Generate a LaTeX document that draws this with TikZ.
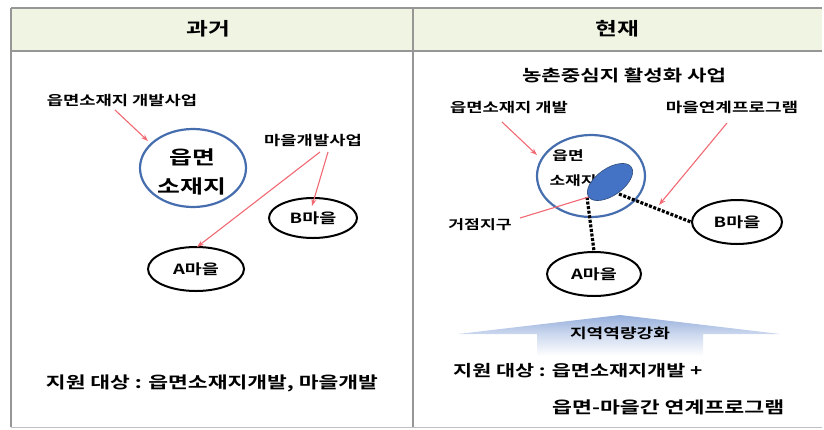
\documentclass[tikz,border=0pt]{standalone}
\usepackage{fontspec}
\setmainfont{Noto Sans CJK KR Bold}[FakeStretch=1.32]
\usetikzlibrary{arrows.meta,shapes.geometric}
\definecolor{hdr}{RGB}{239,245,226}
\definecolor{grid}{RGB}{150,150,150}
\definecolor{redl}{RGB}{240,105,115}
\definecolor{blueo}{RGB}{70,110,175}
\definecolor{bluef}{RGB}{68,114,196}
\definecolor{arrowb}{RGB}{150,175,220}
\newcommand{\fsz}[1]{\fontsize{#1}{#1}\selectfont}
\tikzset{
  lbl/.style={font=\fsz{13.4}, inner sep=1pt},
  big/.style={font=\fsz{16.3}, inner sep=1pt},
  vill/.style={ellipse, draw=black, line width=2pt, font=\fsz{14}},
  centre/.style={ellipse, draw=blueo, line width=2.2pt},
  redarr/.style={draw=redl, line width=1.1pt, -{Stealth[length=7pt,width=5pt]}},
  redln/.style={draw=redl, line width=1.1pt},
  dots/.style={draw=black, line width=3.2pt, dash pattern=on 3pt off 1.6pt},
}
\begin{document}
\begin{tikzpicture}[x=1pt,y=-1pt]
\useasboundingbox (0,0) rectangle (824,429);
% table
\fill[hdr] (11,8) rectangle (822,51);
\draw[grid, line width=1.4pt] (11,8) -- (822,8);
\draw[grid, line width=1.4pt] (11,51) -- (822,51);
\draw[grid, line width=1.4pt] (11,8) -- (11,427);
\draw[grid, line width=1.4pt] (413,8) -- (413,427);
\draw[grid!60, line width=0.8pt] (11,427) -- (822,427);
\node[font=\fsz{18}] (h1) at (208,29) {과거};
\node[font=\fsz{18}] (h2) at (617,29) {현재};

% ---------- left panel ----------
\node[lbl] (l1) at (122,100) {읍면소재지 개발사업};
\node[centre, minimum width=106pt, minimum height=78pt] (lc) at (193,168) {};
\node[font=\fsz{18.8}] (lct1) at (192,157) {읍면};
\node[font=\fsz{18.8}] (lct2) at (192,186) {소재지};
\node[lbl] (l2) at (313,140) {마을개발사업};
\node[vill, minimum width=88pt, minimum height=40pt] (lb) at (313,218) {B마을};
\node[vill, minimum width=96pt, minimum height=44pt] (la) at (196,269) {A마을};
\coordinate (l1s) at (115,110);
\coordinate (l1e) at (148,141);
\draw[redarr] (l1s) -- (l1e);
\coordinate (l2s) at (320,152);
\coordinate (l2t) at (328,152);
\coordinate (lae) at (197,247);
\coordinate (lbe) at (312,206);
\draw[redarr] (l2s) -- (lae);
\draw[redarr] (l2t) -- (lbe);
\node[big] (ls) at (212,383) {지원 대상 :  읍면소재지개발, 마을개발};

% ---------- right panel ----------
\node[font=\fsz{16}] (rt) at (624,75) {농촌중심지 활성화 사업};
\node[lbl] (r1) at (509,107) {읍면소재지 개발};
\node[font=\fsz{13.6}, inner sep=1pt] (r2) at (732,107) {마을연계프로그램};
\node[centre, minimum width=108pt, minimum height=82pt] (rc) at (591,176) {};
\node[font=\fsz{12.9}] (rct1) at (568,156) {읍면};
\node[font=\fsz{12.9}] (rct2) at (573,181) {소재지};
\node[vill, minimum width=90pt, minimum height=44pt] (rb) at (737,222) {B마을};
\node[vill, minimum width=94pt, minimum height=44pt] (ra) at (594,274) {A마을};
\node[font=\fsz{13}, inner sep=1pt] (r3) at (480,225) {거점지구};
% dotted links
\coordinate (d1) at (587,197);
\coordinate (d2) at (619,194);
\draw[dots] (d1) -- (ra.north);
\draw[dots] (d2) -- (rb.west);
% hub
\node[ellipse, fill=bluef, draw=blueo!70!black, line width=0.6pt, minimum width=52pt, minimum height=27pt, rotate=35] (hub) at (610,182) {};
% red arrows
\coordinate (r1s) at (502,122);
\coordinate (r1e) at (537,155);
\draw[redarr] (r1s) -- (r1e);
\coordinate (r2s) at (727,123);
\coordinate (r2e) at (659,205);
\draw[redarr] (r2s) -- (r2e);
\coordinate (r3s) at (520,218);
\draw[redln] (r3s) -- (hub.west);
% wide arrow
\shade[top color=arrowb, bottom color=white, middle color=arrowb!45]
  (458,334) -- (620,315) -- (780,334) -- (703,334) -- (703,356) -- (537,356) -- (537,334) -- cycle;
\node[font=\fsz{13.7}] (ar) at (620,333) {지역역량강화};
\node[font=\fsz{15.7}, inner sep=1pt, anchor=west] (rs1) at (452,371) {지원 대상 :  읍면소재지개발 +};
\node[font=\fsz{16.4}, inner sep=1pt, anchor=west] (rs2) at (551,407) {읍면-마을간 연계프로그램};
\end{tikzpicture}
\end{document}
